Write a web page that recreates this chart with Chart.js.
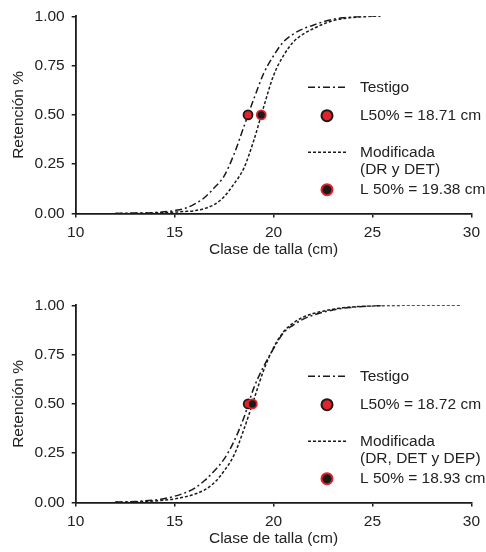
<!DOCTYPE html>
<html>
<head>
<meta charset="utf-8">
<script src="https://cdn.jsdelivr.net/npm/chart.js@4.4.1/dist/chart.umd.min.js"></script>
<style>
  html, body { margin: 0; padding: 0; background: #fff; }
  #wrap { position: relative; width: 486px; height: 552px; }
  canvas { position: absolute; left: 0; }
  #graficoA { top: 0; }
  #graficoB { top: 289px; }
</style>
</head>
<body>
<div id="wrap">
  <canvas id="graficoA" width="486" height="262"></canvas>
  <canvas id="graficoB" width="486" height="262"></canvas>
</div>
<script>
// Panel A: Testigo vs Modificada (DR y DET)
const tallaA = [12, 13, 14, 15, 15.5, 16, 16.5, 17, 17.5, 18, 18.5, 19, 19.5, 20, 20.5, 21, 21.5, 22, 22.5, 23, 23.5, 24, 24.5, 25, 25.4];
const testigoA = [0, 0.002, 0.005, 0.015, 0.025, 0.048, 0.08, 0.13, 0.19, 0.30, 0.44, 0.58, 0.71, 0.80, 0.87, 0.91, 0.937, 0.955, 0.972, 0.985, 0.993, 0.997, 0.999, 1, 1];
const modificadaA = [0, 0.001, 0.003, 0.007, 0.01, 0.014, 0.025, 0.045, 0.085, 0.15, 0.23, 0.37, 0.54, 0.70, 0.80, 0.87, 0.91, 0.937, 0.96, 0.978, 0.988, 0.994, 0.998, 1, 1];
const l50A = [18.71, 19.38];
const leyendaA = ['Testigo', 'L50% = 18.71 cm', ['Modificada', '(DR y DET)'], 'L 50% = 19.38 cm'];

// Panel B: Testigo vs Modificada (DR, DET y DEP)
const tallaTestigoB = [12, 13, 14, 14.5, 15, 15.5, 16, 16.5, 17, 17.5, 18, 18.5, 19, 19.5, 20, 20.5, 21, 21.5, 22, 22.5, 23, 23.5, 24, 24.5, 25, 25.5];
const testigoB = [0.002, 0.005, 0.013, 0.02, 0.032, 0.048, 0.072, 0.11, 0.16, 0.22, 0.31, 0.43, 0.58, 0.69, 0.78, 0.86, 0.90, 0.93, 0.95, 0.965, 0.976, 0.985, 0.99, 0.994, 0.997, 0.999];
const tallaModB = [12, 13, 14, 14.5, 15, 15.5, 16, 16.5, 17, 17.5, 18, 18.5, 19, 19.5, 20, 20.5, 21, 21.5, 22, 22.5, 23, 23.5, 24, 24.5, 25, 26, 27, 28, 29.5];
const modificadaB = [0.001, 0.003, 0.008, 0.012, 0.018, 0.028, 0.042, 0.063, 0.10, 0.16, 0.24, 0.37, 0.52, 0.67, 0.785, 0.865, 0.91, 0.94, 0.958, 0.97, 0.98, 0.987, 0.992, 0.995, 0.997, 0.999, 1, 1, 1];
const l50B = [18.72, 18.93];
const leyendaB = ['Testigo', 'L50% = 18.72 cm', ['Modificada', '(DR, DET y DEP)'], 'L 50% = 18.93 cm'];

const ticksX = [10, 15, 20, 25, 30];
const ticksY = [0, 0.25, 0.5, 0.75, 1];

const FUENTE = '"Liberation Sans", Arial, sans-serif';
const ROJO = '#e4222b';
const NEGRO = '#1a1a1a';
const GUION_PUNTO = [7, 3, 2, 3];
const GUIONES = [3, 2];

function puntos(xs, ys) {
  return xs.map((x, i) => ({ x: x, y: ys[i] }));
}

// draws the legend at the right side of the plot area
const leyendaLateral = {
  id: 'leyendaLateral',
  afterDraw(chart, args, opts) {
    const ctx = chart.ctx;
    const top = chart.chartArea.top;
    const filas = [71, 99.4, 136, 173.4];
    ctx.save();
    ctx.font = '15.5px ' + FUENTE;
    ctx.fillStyle = '#222';
    ctx.textBaseline = 'middle';
    ctx.textAlign = 'left';
    opts.textos.forEach((t, i) => {
      const y = top + filas[i];
      if (i === 0 || i === 2) {
        ctx.beginPath();
        ctx.setLineDash(i === 0 ? GUION_PUNTO : GUIONES);
        ctx.strokeStyle = NEGRO;
        ctx.lineWidth = 1.5;
        ctx.moveTo(308, y);
        ctx.lineTo(346, y);
        ctx.stroke();
        ctx.setLineDash([]);
      } else {
        ctx.beginPath();
        ctx.arc(327, y, 5.5, 0, Math.PI * 2);
        ctx.fillStyle = i === 1 ? ROJO : NEGRO;
        ctx.fill();
        ctx.lineWidth = 2;
        ctx.strokeStyle = i === 1 ? NEGRO : ROJO;
        ctx.stroke();
        ctx.fillStyle = '#222';
      }
      [].concat(t).forEach((linea, j) => ctx.fillText(linea, 360, y + j * 17.5));
    });
    ctx.restore();
  }
};

function crearGrafico(id, tallaT, testigo, tallaM, modificada, l50, leyenda) {
  const ctx = document.getElementById(id);
  return new Chart(ctx, {
    type: 'scatter',
    data: {
      datasets: [
        {
          label: 'L50 Testigo',
          data: [{ x: l50[0], y: 0.5 }],
          pointRadius: 4.5,
          pointBackgroundColor: ROJO,
          pointBorderColor: NEGRO,
          pointBorderWidth: 1.8,
          order: 1
        },
        {
          label: 'L50 Modificada',
          data: [{ x: l50[1], y: 0.5 }],
          pointRadius: 4.5,
          pointBackgroundColor: NEGRO,
          pointBorderColor: ROJO,
          pointBorderWidth: 1.8,
          order: 0
        },
        {
          label: 'Testigo',
          data: puntos(tallaT, testigo),
          showLine: true,
          borderColor: NEGRO,
          borderWidth: 1.5,
          borderDash: GUION_PUNTO,
          pointRadius: 0,
          cubicInterpolationMode: 'monotone',
          order: 2
        },
        {
          label: 'Modificada',
          data: puntos(tallaM, modificada),
          showLine: true,
          borderColor: NEGRO,
          borderWidth: 1.5,
          borderDash: GUIONES,
          pointRadius: 0,
          cubicInterpolationMode: 'monotone',
          order: 3
        }
      ]
    },
    options: {
      responsive: false,
      animation: false,
      layout: { padding: { top: 12, right: 9.3, left: 0, bottom: 0 } },
      plugins: {
        legend: { display: false },
        tooltip: { enabled: false },
        leyendaLateral: { textos: leyenda }
      },
      scales: {
        x: {
          type: 'linear',
          min: 10,
          max: 30,
          afterFit: (s) => { s.height = 48.5; },
          afterBuildTicks: (s) => { s.ticks = ticksX.map(v => ({ value: v })); },
          ticks: { color: '#222', padding: 6, font: { family: FUENTE, size: 15.5 } },
          grid: { drawOnChartArea: false, drawTicks: true, tickLength: 4, color: NEGRO, lineWidth: 1.5 },
          border: { display: true, color: NEGRO, width: 1.8 },
          title: {
            display: true,
            text: 'Clase de talla (cm)',
            color: '#222',
            font: { family: FUENTE, size: 15.5 },
            padding: { top: 0, bottom: 3.4 }
          }
        },
        y: {
          type: 'linear',
          min: 0,
          max: 1,
          afterFit: (s) => { s.width = 75.7; },
          afterBuildTicks: (s) => { s.ticks = ticksY.map(v => ({ value: v })); },
          ticks: {
            color: '#222',
            padding: 7,
            font: { family: FUENTE, size: 15.5 },
            callback: (v) => Number(v).toFixed(2)
          },
          grid: { drawOnChartArea: false, drawTicks: true, tickLength: 4, color: NEGRO, lineWidth: 1.5 },
          border: { display: true, color: NEGRO, width: 1.8 },
          title: {
            display: true,
            text: 'Retención %',
            color: '#222',
            font: { family: FUENTE, size: 15.5 },
            padding: { top: 9, bottom: 0 }
          }
        }
      }
    },
    plugins: [leyendaLateral]
  });
}

crearGrafico('graficoA', tallaA, testigoA, tallaA, modificadaA, l50A, leyendaA);
crearGrafico('graficoB', tallaTestigoB, testigoB, tallaModB, modificadaB, l50B, leyendaB);
</script>
</body>
</html>
